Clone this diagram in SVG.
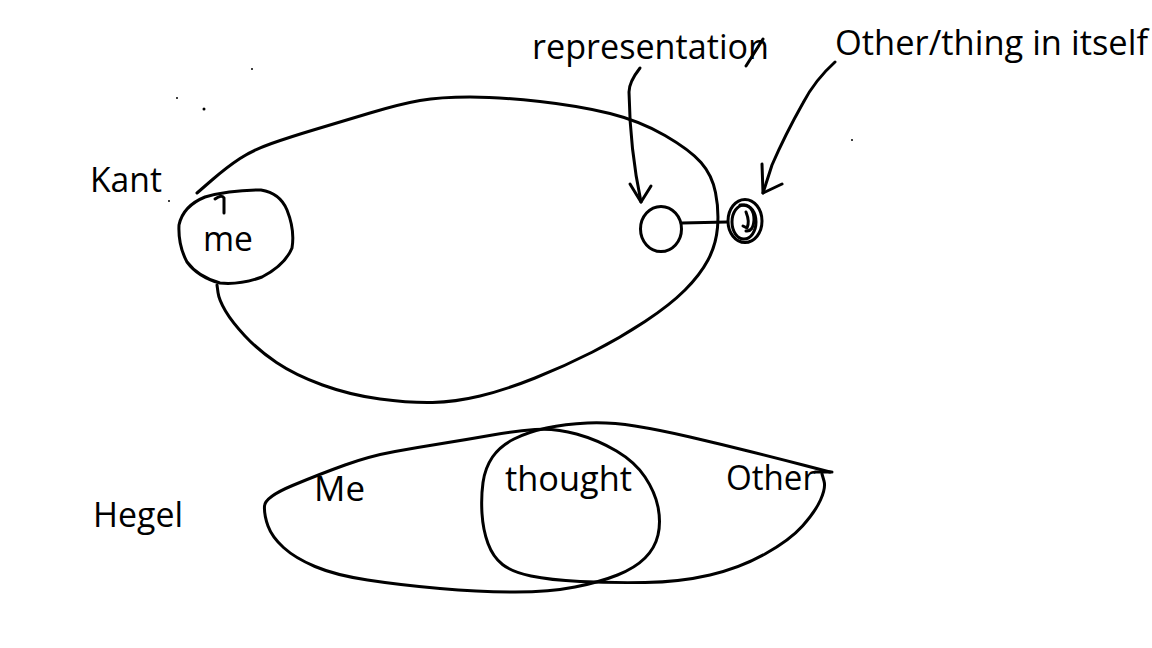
<svg xmlns="http://www.w3.org/2000/svg" width="1152" height="648" viewBox="0 0 1152 648">
<style>
.t{font-family:"Open Sans","Noto Sans",sans-serif;font-size:35px;fill:#000}
.s{fill:none;stroke:#000;stroke-width:3;stroke-linecap:round;stroke-linejoin:round}
.d{fill:#000}
</style>
<rect width="1152" height="648" fill="#fff"/>
<g id="labels">
<text class="t" x="532" y="59" textLength="237" lengthAdjust="spacingAndGlyphs">representation</text>
<text class="t" x="835" y="55" textLength="313" lengthAdjust="spacingAndGlyphs">Other/thing in itself</text>
<text class="t" x="90" y="192" textLength="72" lengthAdjust="spacingAndGlyphs">Kant</text>
<text class="t" x="93" y="527" textLength="90" lengthAdjust="spacingAndGlyphs">Hegel</text>
</g>
<g id="kant-world">
<path class="s" d="M197,193 L212,180 Q227,167 240,158.5 Q253,150 271.5,143.5 Q290,137 315,129.5 Q340,122 370,113 Q400,104 420,100.5 Q440,97 470,97 Q500,97 540,101.5 Q580,106 610,113.5 Q640,121 665,135.5 Q690,150 701,162.5 Q712,175 715.5,192.5 Q719,210 717.5,227.5 Q716,245 708,260 Q700,275 685,290 Q670,305 645,321.5 Q620,338 592.5,352 Q565,366 535,378 Q505,390 480,396 Q455,402 432.5,402.5 Q410,403 380,399 Q350,395 322.5,385 Q295,375 276.5,362.5 Q258,350 245,336 Q232,322 225.5,311 Q219,300 218,292.5 L217,285"/>
</g>
<g id="kant-me">
<path class="s" d="M205,197 Q230,190 261,190 Q280,193 287,210 Q295,230 292,248 Q285,265 262,277 Q240,285 220,283 Q198,277 187,262 Q178,245 179,225 Q183,206 205,197 Z"/>
<path class="s" d="M215,199 Q222,194 224,198 L224,213"/>
<text class="t" x="203" y="251" textLength="50" lengthAdjust="spacingAndGlyphs">me</text>
</g>
<g id="representation-node">
<ellipse class="s" cx="661" cy="229" rx="20.5" ry="22.5"/>
</g>
<g id="thing-in-itself">
<ellipse class="s" cx="745" cy="221" rx="17" ry="21.5"/>
<ellipse class="s" cx="744" cy="222" rx="12" ry="17"/>
<path class="s" d="M740,205 Q754,204 754,220 Q753,232 746,231"/>
<path class="s" d="M746,212 Q750,222 747,228 L743,226"/>
</g>
<g id="connectors">
<path class="s" d="M682,223 L727,222"/>
<path class="s" d="M640,68 Q629,82 629,92 Q630,150 641,202"/>
<path class="s" d="M630,184 L641,202 L651,186"/>
<path class="s" d="M835,62 Q815,80 803,103 Q785,135 772,165 L763,193"/>
<path class="s" d="M762,164 L763,193 L782,184"/>
<path class="s" d="M746,66 L763,39"/>
</g>
<g id="hegel-me">
<path class="s" d="M292.5,485.5 Q265,497 264.5,506 Q264,515 268,526 Q272,537 283.5,547.5 Q295,558 315,566.5 Q335,575 367.5,580 Q400,585 440,588.5 Q480,592 515,592 Q550,592 575,587 Q600,582 617.5,575 Q635,568 645,558 Q655,548 658,535 Q661,522 658,507 Q655,492 645,477 Q635,462 616.5,451 Q598,440 576.5,434 Q555,428 535,429.5 Q515,431 492.5,435 Q470,439 445,443 Q420,447 395,451.5 Q370,456 345,465 Q320,474 292.5,485.5 Z"/>
<text class="t" x="314" y="501" textLength="51" lengthAdjust="spacingAndGlyphs">Me</text>
</g>
<g id="hegel-other">
<path class="s" d="M830,472 L805,465.5 Q780,459 750,451.5 Q720,444 690,437 Q660,430 635,426 Q610,422 587.5,423 Q565,424 546.5,428 Q528,432 514,439 Q500,446 492.5,457 Q485,468 483,482.5 Q481,497 482,513.5 Q483,530 488,543.5 Q493,557 502.5,564.5 Q512,572 531,576 Q550,580 580,581.5 Q610,583 645,582.5 Q680,582 710,575 Q740,568 765,554 Q790,540 802.5,526 Q815,512 820.5,500 Q826,488 824,481 L822,474"/>
<path class="s" d="M815,472 L832,472"/>
<text class="t" x="726" y="490" textLength="90" lengthAdjust="spacingAndGlyphs">Other</text>
</g>
<g id="hegel-thought">
<text class="t" x="505" y="491" textLength="127" lengthAdjust="spacingAndGlyphs">thought</text>
</g>
<g id="specks">
<circle class="d" cx="177" cy="98" r="1"/>
<circle class="d" cx="204" cy="109" r="1.5"/>
<circle class="d" cx="252" cy="69" r="1"/>
<circle class="d" cx="852" cy="140" r="1"/>
<circle class="d" cx="169" cy="201" r="1"/>
</g>
</svg>
